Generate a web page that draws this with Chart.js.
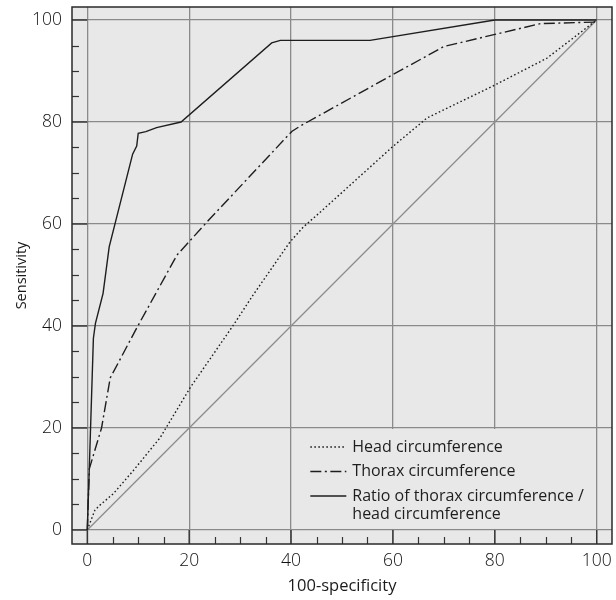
<!DOCTYPE html>
<html>
<head>
<meta charset="utf-8">
<script src="https://cdn.jsdelivr.net/npm/chart.js@4/dist/chart.umd.min.js"></script>
<style>
html,body{margin:0;padding:0;background:#fff;}
#wrap{width:616px;height:600px;}
</style>
</head>
<body>
<div id="wrap"><canvas id="roc" width="616" height="600"></canvas></div>
<script>
// ROC curves (x = 100-specificity, y = sensitivity)
const headX=[0,1.5,2.4,5.1,9,14.3,20.2,28.7,32.5,39.8,42.4,45.7,60.1,66.7,80.1,90.2,100];
const headY=[0,3.9,4.8,7.1,11.6,18.1,27.9,40.2,46,56.5,59.4,62.3,75.3,80.8,87.3,92.5,100];
const thoraxX=[0,0.4,2.8,4.5,9.7,17.6,23.5,40.2,41.8,60,70,89,100];
const thoraxY=[0,12,20,29.8,39.6,53.9,60.4,78.2,79.2,89.3,94.8,99.3,99.6];
const ratioX=[0,0.4,1.2,1.6,3.1,4.3,8.9,9.7,10,11.5,13.6,18.4,36.2,37.9,55.5,80,100];
const ratioY=[0,12.3,37.6,40.5,46.4,55.5,73.7,75.3,77.8,78.1,78.9,80,95.5,96,96,100,100];
const diagX=[0,100];
const diagY=[0,100];
const majorTicks=[0,20,40,60,80,100];
const minorTicks=[5,10,15,25,30,35,45,50,55,65,70,75,85,90,95];
const legendLabels=[["Head circumference"],["Thorax circumference"],["Ratio of thorax circumference /","head circumference"]];

const ink="#1e1e1e";
const dashes=[[1.6,2.4],[11,3.5,2,3.5],[]];

function pts(xs,ys){return xs.map((x,i)=>({x:x,y:ys[i]}));}
function ds(xs,ys,dash,color,w){
  return {data:pts(xs,ys),showLine:true,borderColor:color,borderWidth:w,borderDash:dash,pointRadius:0,fill:false,tension:0};
}

const frame={
  id:"frame",
  beforeDraw(chart){
    const a=chart.chartArea,c=chart.ctx;
    c.save();c.fillStyle="#e8e8e8";c.fillRect(a.left,a.top,a.right-a.left,a.bottom-a.top);c.restore();
  },
  beforeDatasetsDraw(chart){
    const a=chart.chartArea,c=chart.ctx,xs=chart.scales.x,ys=chart.scales.y;
    // minor ticks pointing in
    c.save();c.strokeStyle="#333";c.lineWidth=1.2;
    minorTicks.forEach(v=>{
      const py=Math.round(ys.getPixelForValue(v))+0.5;
      c.beginPath();c.moveTo(a.left,py);c.lineTo(a.left+7,py);c.stroke();
      const px=Math.round(xs.getPixelForValue(v))+0.5;
      c.beginPath();c.moveTo(px,a.bottom);c.lineTo(px,a.bottom-7);c.stroke();
    });
    // dark stubs of the major ticks, border to the zero gridline
    const x0=xs.getPixelForValue(0),y0=ys.getPixelForValue(0);
    c.lineWidth=1.4;
    majorTicks.forEach(v=>{
      const py=ys.getPixelForValue(v);
      c.beginPath();c.moveTo(a.left,py);c.lineTo(x0,py);c.stroke();
      const px=xs.getPixelForValue(v);
      c.beginPath();c.moveTo(px,a.bottom);c.lineTo(px,y0);c.stroke();
    });
    c.restore();
    // legend panel
    const lx=xs.getPixelForValue(42.8),rx=xs.getPixelForValue(99.7);
    const ty=ys.getPixelForValue(19.8),by=ys.getPixelForValue(0.2);
    c.save();c.fillStyle="#e8e8e8";c.fillRect(lx,ty,rx-lx,by-ty);
    c.font="16px 'Open Sans', sans-serif";c.fillStyle="#1e1e1e";c.textBaseline="middle";
    let y=ty+18;
    legendLabels.forEach((lines,i)=>{
      c.strokeStyle=ink;c.lineWidth=1.3;c.setLineDash(dashes[i]);
      c.beginPath();c.moveTo(lx+5,y);c.lineTo(lx+41,y);c.stroke();
      c.setLineDash([]);
      lines.forEach((t,j)=>{c.fillText(t,lx+47,y+j*18);});
      y+=24.5;
    });
    c.restore();
  },
  afterDatasetsDraw(chart){
    const a=chart.chartArea,c=chart.ctx;
    c.save();c.strokeStyle="#2a2a2a";c.lineWidth=1.5;
    c.strokeRect(a.left,a.top,a.right-a.left,a.bottom-a.top);c.restore();
  }
};

const tickFont={family:"'Open Sans', sans-serif",size:17.5,weight:"300"};

new Chart(document.getElementById("roc"),{
  type:"scatter",
  data:{datasets:[
    ds(headX,headY,dashes[0],ink,1.4),
    ds(thoraxX,thoraxY,dashes[1],ink,1.4),
    ds(ratioX,ratioY,dashes[2],ink,1.4),
    ds(diagX,diagY,[],"#8d8d8d",1.3)
  ]},
  options:{
    responsive:false,animation:false,
    layout:{padding:{top:7,right:4,left:0,bottom:0}},
    plugins:{legend:{display:false},tooltip:{enabled:false}},
    scales:{
      x:{type:"linear",min:-3,max:103,
        afterBuildTicks(s){s.ticks=majorTicks.map(v=>({value:v}));},
        afterFit(s){s.height=56;s.paddingLeft=0;s.paddingRight=0;},
        grid:{color:"#8a8a8a",lineWidth:1.3,drawTicks:false},
        border:{display:false},
        ticks:{font:tickFont,color:"#111",padding:7},
        title:{display:true,text:"100-specificity",font:{family:"'Open Sans', sans-serif",size:16.5},color:"#1a1a1a",padding:{top:0,bottom:4}}
      },
      y:{type:"linear",min:-2.75,max:102.55,
        afterBuildTicks(s){s.ticks=majorTicks.map(v=>({value:v}));},
        afterFit(s){s.width=72;s.paddingTop=0;s.paddingBottom=0;},
        grid:{color:"#8a8a8a",lineWidth:1.3,drawTicks:false},
        border:{display:false},
        ticks:{font:tickFont,color:"#111",padding:10},
        title:{display:true,text:"Sensitivity",font:{family:"'Open Sans', sans-serif",size:14.5},color:"#1a1a1a",padding:{top:13,bottom:0}}
      }
    }
  },
  plugins:[frame]
});
</script>
</body>
</html>
